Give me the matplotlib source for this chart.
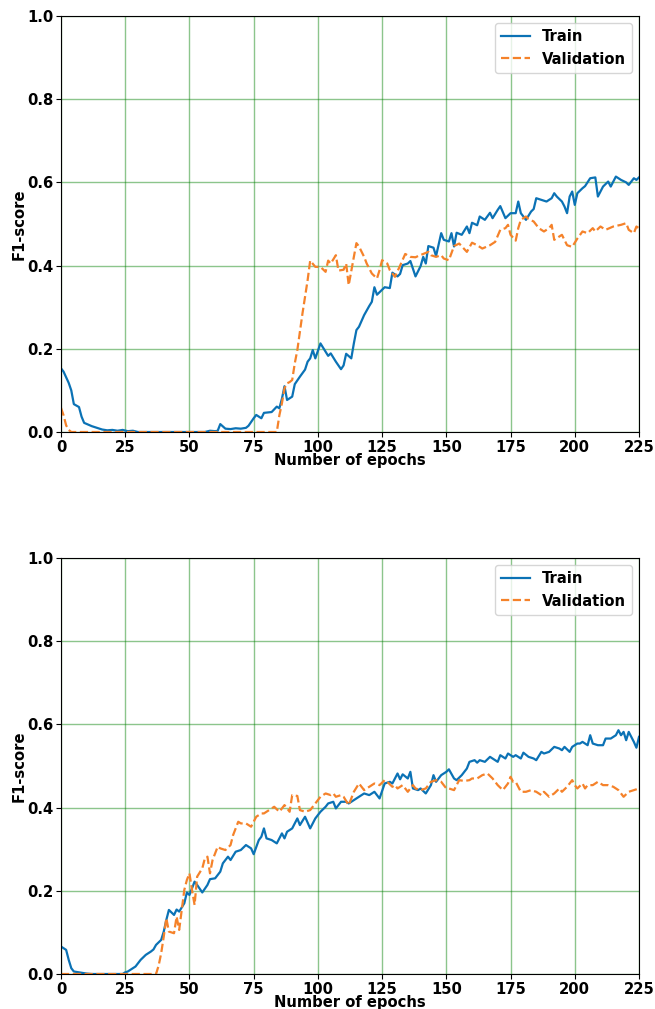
import matplotlib
matplotlib.use("Agg")
import matplotlib.pyplot as plt

# ---------------- data ----------------
top_train_epochs = [0, 1, 3, 4, 5, 7, 8, 9, 12, 14, 16, 18, 20, 22, 24, 26, 28, 30, 56, 58, 60, 61,
                    62, 64, 66, 68, 70, 72, 73, 75, 76, 78, 79, 82, 84, 85, 86, 87, 88, 90, 91, 93,
                    95, 96, 97, 98, 99, 101, 103, 104, 105, 107, 109, 110, 111, 113, 114, 115, 116,
                    118, 120, 121, 122, 123, 125, 126, 128, 129, 131, 132, 133, 135, 136, 138, 140,
                    141, 142, 143, 145, 146, 148, 149, 151, 152, 153, 154, 156, 158, 159, 160, 162,
                    163, 165, 167, 168, 170, 171, 173, 175, 177, 178, 179, 181, 183, 184, 185, 187,
                    189, 191, 192, 193, 195, 196, 197, 198, 199, 200, 201, 203, 204, 206, 208, 209,
                    211, 213, 214, 216, 218, 220, 221, 223, 224, 225]
top_train_f1 = [0.153, 0.145, 0.118, 0.100, 0.067, 0.060, 0.037, 0.022, 0.014, 0.010, 0.006, 0.004,
                0.005, 0.003, 0.005, 0.002, 0.003, 0.000, 0.000, 0.003, 0.002, 0.003,
                0.019, 0.008, 0.007, 0.009, 0.008, 0.010, 0.015, 0.033, 0.041, 0.033, 0.046, 0.048,
                0.061, 0.057, 0.080, 0.110, 0.077, 0.085, 0.115, 0.133,
                0.150, 0.169, 0.177, 0.197, 0.177, 0.213, 0.193, 0.183, 0.189, 0.169, 0.151, 0.160,
                0.188, 0.177, 0.213, 0.245, 0.253,
                0.281, 0.303, 0.313, 0.348, 0.330, 0.342, 0.348, 0.346, 0.383, 0.374, 0.380, 0.401,
                0.405, 0.411, 0.374, 0.399,
                0.421, 0.405, 0.447, 0.443, 0.423, 0.478, 0.462, 0.458, 0.478, 0.446, 0.479, 0.474,
                0.494, 0.478, 0.503, 0.497,
                0.518, 0.510, 0.527, 0.514, 0.534, 0.543, 0.514, 0.526, 0.526, 0.554, 0.526, 0.510,
                0.530, 0.536, 0.562, 0.558,
                0.554, 0.562, 0.574, 0.566, 0.554, 0.542, 0.526, 0.566, 0.578, 0.546, 0.574, 0.586,
                0.591, 0.610, 0.612, 0.566,
                0.590, 0.602, 0.590, 0.614, 0.606, 0.600, 0.594, 0.610, 0.606, 0.612]

top_val_epochs = [0, 1, 2, 3, 4, 84, 85, 86, 87, 88, 89, 90, 91, 92, 93, 94, 95, 96, 97, 99, 101,
                  103, 104, 105, 107, 108, 110, 111, 112, 114, 115, 116, 118, 119, 121, 123, 124,
                  125, 127, 128, 130, 132, 134, 136, 138, 139, 141, 143, 144, 146, 148, 149, 151,
                  153, 155, 158, 160, 162, 164, 167, 169, 171, 173, 174, 175, 177, 178, 179, 181,
                  182, 184, 186, 188, 190, 191, 192, 194, 195, 197, 199, 201, 203, 205, 207, 208,
                  210, 212, 215, 218, 220, 221, 223, 224, 225]
top_val_f1 = [0.058, 0.040, 0.016, 0.005, 0.000, 0.000, 0.040, 0.069, 0.105, 0.117, 0.120, 0.125,
              0.165, 0.197, 0.241, 0.285, 0.325, 0.365, 0.412, 0.397, 0.397,
              0.385, 0.412, 0.405, 0.425, 0.388, 0.390, 0.405, 0.353, 0.421, 0.454, 0.446, 0.421,
              0.405, 0.381, 0.369, 0.389,
              0.413, 0.405, 0.389, 0.373, 0.400, 0.428, 0.421, 0.420, 0.423, 0.428, 0.433, 0.425,
              0.421, 0.425, 0.417, 0.413,
              0.447, 0.453, 0.433, 0.455, 0.449, 0.441, 0.449, 0.457, 0.486, 0.490, 0.498, 0.474,
              0.460, 0.490, 0.510, 0.518,
              0.512, 0.506, 0.490, 0.482, 0.490, 0.498, 0.462, 0.470, 0.474, 0.449, 0.445, 0.465,
              0.482, 0.478, 0.490, 0.482,
              0.494, 0.486, 0.494, 0.498, 0.502, 0.486, 0.478, 0.494, 0.490]

bot_train_epochs = [0, 2, 3, 4, 5, 8, 10, 12, 24, 25, 26, 27, 29, 31, 33, 35, 36, 37, 39, 40, 41,
                    42, 44, 45, 46, 48, 49, 50, 52, 53, 55, 57, 58, 60, 62, 63, 65, 66, 68, 70, 72,
                    74, 75, 77, 78, 79, 80, 82, 84, 86, 87, 88, 90, 92, 93, 95, 97, 99, 101, 103,
                    104, 106, 107, 109, 111, 112, 115, 118, 120, 122, 124, 126, 128, 129, 131, 132,
                    133, 135, 136, 137, 139, 140, 142, 144, 145, 146, 148, 150, 151, 153, 154, 156,
                    158, 159, 161, 162, 163, 165, 167, 169, 170, 171, 173, 174, 176, 177, 179, 180,
                    182, 184, 185, 187, 188, 190, 192, 194, 195, 196, 198, 199, 201, 202, 203, 205,
                    206, 207, 209, 211, 212, 214, 216, 217, 218, 219, 220, 221, 223, 224, 225]
bot_train_f1 = [0.066, 0.058, 0.034, 0.014, 0.006, 0.003, 0.001, 0.000, 0.000, 0.004, 0.006, 0.010,
                0.018, 0.034, 0.046, 0.054, 0.059, 0.070, 0.082, 0.102, 0.130,
                0.154, 0.142, 0.155, 0.150, 0.170, 0.196, 0.190, 0.222, 0.214, 0.196, 0.214, 0.228,
                0.230, 0.246, 0.266, 0.282, 0.274, 0.294, 0.298, 0.310,
                0.302, 0.288, 0.322, 0.330, 0.350, 0.326, 0.322, 0.314, 0.338, 0.326, 0.342, 0.350,
                0.374, 0.358, 0.378, 0.350, 0.374, 0.390, 0.402,
                0.410, 0.414, 0.398, 0.414, 0.414, 0.410, 0.422, 0.434, 0.430, 0.438, 0.422, 0.458,
                0.462, 0.458, 0.482, 0.468,
                0.480, 0.470, 0.486, 0.446, 0.442, 0.446, 0.434, 0.454, 0.478, 0.462, 0.478, 0.486,
                0.492, 0.470, 0.466, 0.478,
                0.494, 0.510, 0.514, 0.508, 0.514, 0.510, 0.522, 0.514, 0.510, 0.526, 0.518, 0.530,
                0.522, 0.526, 0.518, 0.532,
                0.522, 0.518, 0.514, 0.534, 0.530, 0.534, 0.546, 0.542, 0.538, 0.546, 0.534, 0.546,
                0.554, 0.554, 0.558, 0.550,
                0.574, 0.554, 0.550, 0.550, 0.566, 0.566, 0.574, 0.586, 0.574, 0.582, 0.562, 0.582,
                0.558, 0.544, 0.570]

bot_val_epochs = [0, 37, 38, 39, 40, 41, 42, 44, 45, 46, 47, 48, 49, 50, 51, 52, 53, 55, 56, 57,
                  58, 59, 61, 62, 64, 66, 67, 69, 70, 72, 74, 76, 78, 79, 81, 83, 85, 87, 89, 90,
                  92, 93, 95, 97, 99, 101, 103, 105, 106, 107, 109, 110, 112, 114, 116, 118, 120,
                  122, 124, 126, 127, 129, 130, 131, 133, 135, 137, 138, 140, 142, 144, 146, 148,
                  150, 151, 153, 155, 157, 159, 160, 162, 164, 166, 168, 170, 172, 174, 175, 176,
                  177, 179, 181, 183, 185, 187, 188, 190, 192, 194, 195, 197, 199, 200, 201, 203,
                  204, 205, 207, 209, 211, 213, 215, 217, 219, 221, 223, 225]
bot_val_f1 = [0.000, 0.000, 0.020, 0.050, 0.090, 0.134, 0.102, 0.098, 0.138, 0.106, 0.154, 0.202,
              0.226, 0.242, 0.202, 0.166, 0.234, 0.254, 0.278, 0.282,
              0.242, 0.274, 0.306, 0.302, 0.298, 0.310, 0.334, 0.366, 0.362, 0.362, 0.354, 0.378,
              0.386, 0.386, 0.394, 0.402, 0.390, 0.406, 0.390, 0.430,
              0.428, 0.394, 0.390, 0.394, 0.410, 0.426, 0.434, 0.430, 0.434, 0.426, 0.430, 0.426,
              0.406, 0.438, 0.458, 0.442, 0.450,
              0.458, 0.454, 0.466, 0.462, 0.450, 0.454, 0.446, 0.454, 0.438, 0.454, 0.446, 0.442,
              0.446, 0.462, 0.466, 0.462,
              0.446, 0.446, 0.442, 0.466, 0.464, 0.466, 0.470, 0.470, 0.478, 0.482, 0.470, 0.454,
              0.442, 0.458, 0.474, 0.462,
              0.462, 0.438, 0.438, 0.442, 0.438, 0.430, 0.438, 0.426, 0.434, 0.446, 0.438, 0.450,
              0.466, 0.454, 0.446, 0.458,
              0.446, 0.454, 0.454, 0.462, 0.454, 0.454, 0.450, 0.442, 0.426, 0.438, 0.442, 0.446]

x_ticks = [0, 25, 50, 75, 100, 125, 150, 175, 200, 225]
y_ticks = [0.0, 0.2, 0.4, 0.6, 0.8, 1.0]
series_labels = ["Train", "Validation"]
x_label = "Number of epochs"
y_label = "F1-score"

# ---------------- style ----------------
FS = 10.6
BLUE = "#0b72b5"
ORANGE = "#f5822a"

fig = plt.figure(figsize=(6.55, 10.09), dpi=100)
W, H = 655, 1009
positions = [
    [61 / W, 1 - 432 / H, 578 / W, 416 / H],
    [61 / W, 1 - 974 / H, 578 / W, 416 / H],
]
panels = [
    (top_train_epochs, top_train_f1, top_val_epochs, top_val_f1),
    (bot_train_epochs, bot_train_f1, bot_val_epochs, bot_val_f1),
]

for pos, (te, tv, ve, vv) in zip(positions, panels):
    ax = fig.add_axes(pos)
    ax.plot(te, tv, color=BLUE, lw=1.6, label=series_labels[0])
    ax.plot(ve, vv, color=ORANGE, lw=1.6, ls="--", label=series_labels[1])
    ax.set_xlim(0, 225)
    ax.set_ylim(0, 1.0)
    ax.set_xticks(x_ticks)
    ax.set_yticks(y_ticks)
    ax.set_xticklabels([str(t) for t in x_ticks], fontsize=FS, fontweight="bold")
    ax.set_yticklabels([f"{t:.1f}" for t in y_ticks], fontsize=FS, fontweight="bold")
    ax.grid(True, color="green", alpha=0.45, lw=1.0)
    ax.set_axisbelow(True)
    ax.set_xlabel(x_label, fontsize=FS, fontweight="bold", labelpad=-1.2)
    ax.set_ylabel(y_label, fontsize=FS, fontweight="bold", labelpad=0.5)
    ax.tick_params(axis="both", pad=2)
    ax.legend(loc="upper right", prop={"weight": "bold", "size": FS})

fig.savefig("out.png", dpi=100)
